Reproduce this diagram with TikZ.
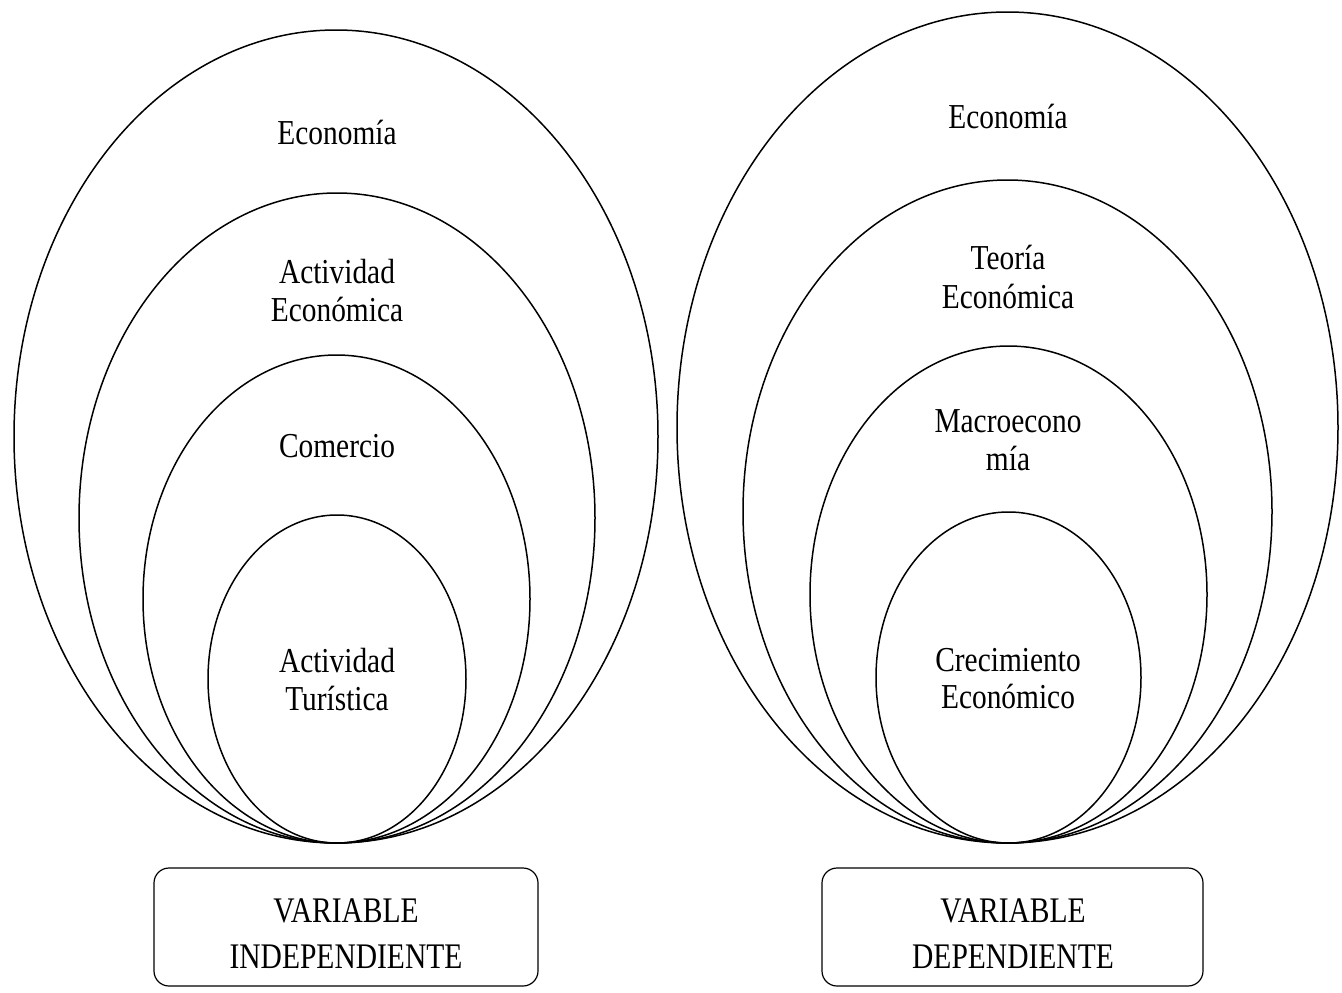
\documentclass[tikz,border=0pt]{standalone}
\usepackage{fontspec}
\setmainfont{Liberation Serif}
\begin{document}
\begin{tikzpicture}[x=1pt,y=-1pt,
  ring/.style={line width=1.5pt, draw=black},
  lbl/.style={anchor=base, inner sep=0pt, font=\fontsize{35}{38}\selectfont, xscale=0.84, transform shape},
  blbl/.style={anchor=base, inner sep=0pt, font=\fontsize{36}{40}\selectfont, xscale=0.82, transform shape},
  varbox/.style={draw=black, line width=1.2pt, rounded corners=15pt}]
\useasboundingbox (0,0) rectangle (1342,993);
% left group
\draw[ring] (336,436.5) ellipse [x radius=322, y radius=406.5];
\draw[ring] (337,518) ellipse [x radius=258, y radius=325];
\draw[ring] (336.5,599) ellipse [x radius=193.5, y radius=244];
\draw[ring] (337,679) ellipse [x radius=129, y radius=164];
% right group
\draw[ring] (1007.5,427.5) ellipse [x radius=330.5, y radius=415.5];
\draw[ring] (1007.5,511.5) ellipse [x radius=264.5, y radius=331.5];
\draw[ring] (1008.5,594.5) ellipse [x radius=198.5, y radius=248.5];
\draw[ring] (1008.5,677.5) ellipse [x radius=132.5, y radius=165.5];
% left labels
\node[lbl] (l1) at (337,144) {Economía};
\node[lbl] (l2a) at (337,283) {Actividad};
\node[lbl] (l2b) at (337,321) {Económica};
\node[lbl] (l3) at (337,457) {Comercio};
\node[lbl] (l4a) at (337,672) {Actividad};
\node[lbl] (l4b) at (337,710) {Turística};
% right labels
\node[lbl] (r1) at (1008,128) {Economía};
\node[lbl] (r2a) at (1008,269) {Teoría};
\node[lbl] (r2b) at (1008,308) {Económica};
\node[lbl] (r3a) at (1008,432) {Macroecono};
\node[lbl] (r3b) at (1008,470) {mía};
\node[lbl] (r4a) at (1008,671) {Crecimiento};
\node[lbl] (r4b) at (1008,708) {Económico};
% boxes
\draw[varbox] (154,868) rectangle (538,986);
\draw[varbox] (822,868) rectangle (1203,986);
\node[blbl] (bl1) at (346,922) {VARIABLE};
\node[blbl] (bl2) at (346,968) {INDEPENDIENTE};
\node[blbl] (br1) at (1013,922) {VARIABLE};
\node[blbl] (br2) at (1013,968) {DEPENDIENTE};
\end{tikzpicture}
\end{document}
